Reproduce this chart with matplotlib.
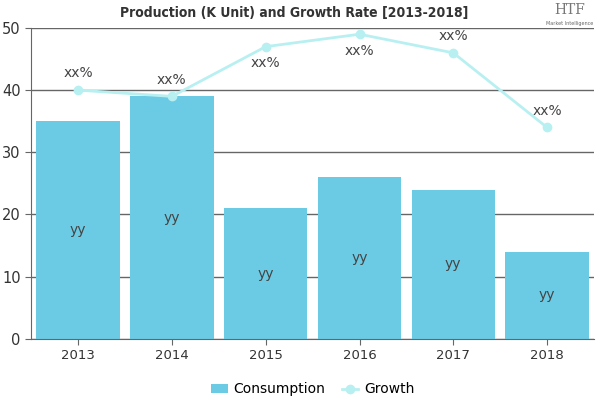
import matplotlib.pyplot as plt

years = ['2013', '2014', '2015', '2016', '2017', '2018']
consumption = [35, 39, 21, 26, 24, 14]
growth = [40, 39, 47, 49, 46, 34]
bar_labels = ['yy'] * 6
growth_labels = ['xx%'] * 6
label_side = [1, 1, -1, -1, 1, 1]  # above / below the point

bar_color = '#6ccbe4'
line_color = '#b8f0f2'

fig = plt.figure(figsize=(6, 4), dpi=100)
ax = fig.add_axes([0.052, 0.153, 0.938, 0.777])

x = range(len(years))
bars = ax.bar(x, consumption, width=0.89, color=bar_color, label='Consumption', zorder=2)
line, = ax.plot(x, growth, color=line_color, linewidth=2, marker='o', markersize=6,
                label='Growth', zorder=3)

for i, v in enumerate(consumption):
    ax.text(i, v / 2, bar_labels[i], ha='center', va='center', fontsize=10,
            color='#444444', zorder=4)
for i, v in enumerate(growth):
    ax.annotate(growth_labels[i], (i, v), xytext=(0, 12 * label_side[i]),
                textcoords='offset points', ha='center', va='center',
                fontsize=10, color='#444444', zorder=4)

ax.set_xlim(-0.5, 5.5)
ax.set_ylim(0, 50)
ax.set_yticks(range(0, 51, 10))
ax.set_xticks(list(x))
ax.set_xticklabels(years)
ax.tick_params(axis='y', labelsize=10.5)
ax.tick_params(axis='x', labelsize=9.5)
ax.tick_params(colors='#666666', labelcolor='#333333', length=4, width=0.8)
ax.yaxis.grid(True, color='#666666', linewidth=1, zorder=0)
ax.set_axisbelow(True)
for s in ['top', 'right']:
    ax.spines[s].set_visible(False)
for s in ['left', 'bottom']:
    ax.spines[s].set_color('#666666')

fig.text(0.49, 0.968, 'Production (K Unit) and Growth Rate [2013-2018]',
         ha='center', va='center', fontsize=10, fontweight='bold',
         fontstretch='condensed', color='#333333')
fig.text(0.95, 0.975, 'HTF', ha='center', va='center', fontsize=10,
         color='#777777', family='DejaVu Serif')
fig.text(0.95, 0.94, 'Market Intelligence', ha='center', va='center',
         fontsize=3.5, color='#666666')

ax.legend([bars, line], ['Consumption', 'Growth'], loc='upper center',
          bbox_to_anchor=(0.5, -0.1), ncol=2, frameon=False,
          fontsize=10, handlelength=1.2, columnspacing=1.2, handletextpad=0.4)

fig.savefig('out.png', dpi=100)
